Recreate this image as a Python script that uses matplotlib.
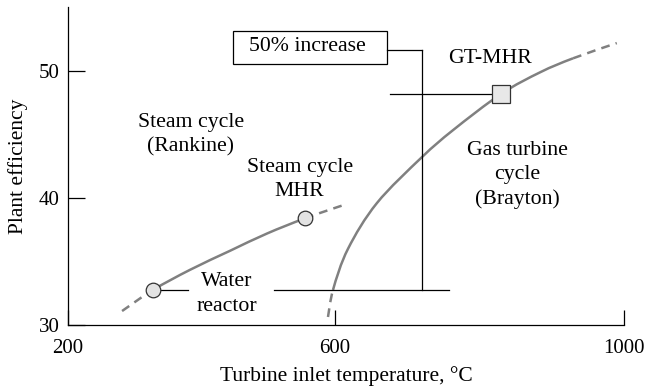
import numpy as np
import matplotlib
matplotlib.use("Agg")
import matplotlib.pyplot as plt
from matplotlib.patches import Rectangle, PathPatch
from matplotlib.path import Path

# Steam (Rankine) cycle curve
steam_temp = [281, 327, 383, 443, 498, 555, 615]
steam_eff = [31.1, 32.75, 34.35, 35.85, 37.2, 38.4, 39.5]

# Gas turbine (Brayton) cycle curve
gas_temp = [589.5, 597, 618, 658, 720, 763.5, 830, 884, 929.5, 990]
gas_eff = [30.63, 32.76, 36.0, 39.6, 43.2, 45.35, 48.2, 49.9, 51.0, 52.2]

# plant points
water_reactor = (327, 32.75)
steam_mhr = (555, 38.4)
gt_mhr = (830, 48.2)

increase_temp = 720
increase_top = 51.65

x_ticks = [200, 600, 1000]
y_ticks = [30, 40, 50]

GRAY = "#808080"
K = 289 / 267  # upper half of the temperature axis is drawn a bit wider


def fwd(x):
    x = np.asarray(x, dtype=float)
    return np.where(x < 600, x, 600 + (x - 600) * K)


def inv(u):
    u = np.asarray(u, dtype=float)
    return np.where(u < 600, u, 600 + (u - 600) / K)


def bezier_pieces(xs, ys):
    """Catmull-Rom style cubic pieces passing through every point."""
    p = np.column_stack([xs, ys]).astype(float)
    pieces = []
    for i in range(len(p) - 1):
        p0 = p[i - 1] if i > 0 else p[i]
        p3 = p[i + 2] if i + 2 < len(p) else p[i + 1]
        c1 = p[i] + (p[i + 1] - p0) / 6
        c2 = p[i + 1] - (p3 - p[i]) / 6
        pieces.append((p[i], c1, c2, p[i + 1]))
    return pieces


def draw_curve(ax, xs, ys, styles):
    """styles: list of (first_index, last_index, linestyle)."""
    pieces = bezier_pieces(xs, ys)
    for i0, i1, ls in styles:
        verts = [pieces[i0][0]]
        codes = [Path.MOVETO]
        for seg in pieces[i0:i1]:
            verts += [seg[1], seg[2], seg[3]]
            codes += [Path.CURVE4] * 3
        ax.add_patch(PathPatch(Path(verts, codes), fill=False, edgecolor=GRAY,
                               lw=1.8, linestyle=ls, capstyle="butt"))


plt.rcParams["font.family"] = ["Liberation Serif", "DejaVu Serif"]
plt.rcParams["font.size"] = 15

fig = plt.figure(figsize=(6.47, 3.89), dpi=100)
ax = fig.add_axes([68 / 647, 64 / 389, 556 / 647, 318 / 389])
ax.set_xscale("function", functions=(fwd, inv))
ax.set_xlim(200, 1000)
ax.set_ylim(30, 55.04)

dash = (0, (3.5, 2.5))
# dashed ends, solid in between
draw_curve(ax, steam_temp, steam_eff, [(0, 1, dash), (1, 5, "solid"), (5, 6, dash)])
draw_curve(ax, gas_temp, gas_eff, [(0, 1, dash), (1, 8, "solid"), (8, 9, dash)])

# leader lines and the 50% increase bracket
blk = dict(color="black", lw=0.9)
ax.plot([water_reactor[0], 380], [water_reactor[1]] * 2, **blk)
ax.plot([509, 758], [water_reactor[1]] * 2, **blk)
ax.plot([676, gt_mhr[0]], [gt_mhr[1]] * 2, **blk)
ax.plot([increase_temp] * 2, [water_reactor[1], increase_top], **blk)
ax.plot([672, increase_temp], [increase_top] * 2, **blk)
ax.add_patch(Rectangle((447, 50.55), 672 - 447, 53.15 - 50.55,
                       fill=False, edgecolor="black", lw=0.9))

txt = dict(ha="center", va="center", fontsize=15.7, linespacing=1.36)
ax.text(558, 51.9, "50% increase", **txt)

# plant markers
for pt in (water_reactor, steam_mhr):
    ax.plot(*pt, "o", ms=10.5, mfc="#e3e3e3", mec="#333333", mew=0.9, zorder=5)
ax.plot(*gt_mhr, "s", ms=13.5, mfc="#e8e8e8", mec="#333333", mew=0.9, zorder=5)

# annotations
ax.text(384, 44.96, "Steam cycle\n(Rankine)", **txt)
ax.text(547, 41.42, "Steam cycle\nMHR", **txt)
ax.text(438, 32.44, "Water\nreactor", **txt)
ax.text(814, 51.02, "GT-MHR", **txt)
ax.text(852, 41.8, "Gas turbine\ncycle\n(Brayton)", **txt)

# axes styling
for side in ("top", "right"):
    ax.spines[side].set_visible(False)
for side in ("left", "bottom"):
    ax.spines[side].set_linewidth(0.9)
ax.set_xticks(x_ticks)
ax.set_xticklabels([str(t) for t in x_ticks])
ax.set_yticks(y_ticks)
ax.xaxis.set_minor_locator(matplotlib.ticker.NullLocator())
ax.tick_params(axis="x", direction="in", length=11, width=0.9, pad=10)
ax.tick_params(axis="y", direction="in", length=12, width=0.9, pad=6)
ax.set_xlabel("Turbine inlet temperature, \u00b0C", fontsize=15.5, labelpad=6)
ax.set_ylabel("Plant efficiency", fontsize=15.5, labelpad=8)

fig.savefig("out.png", dpi=100)
